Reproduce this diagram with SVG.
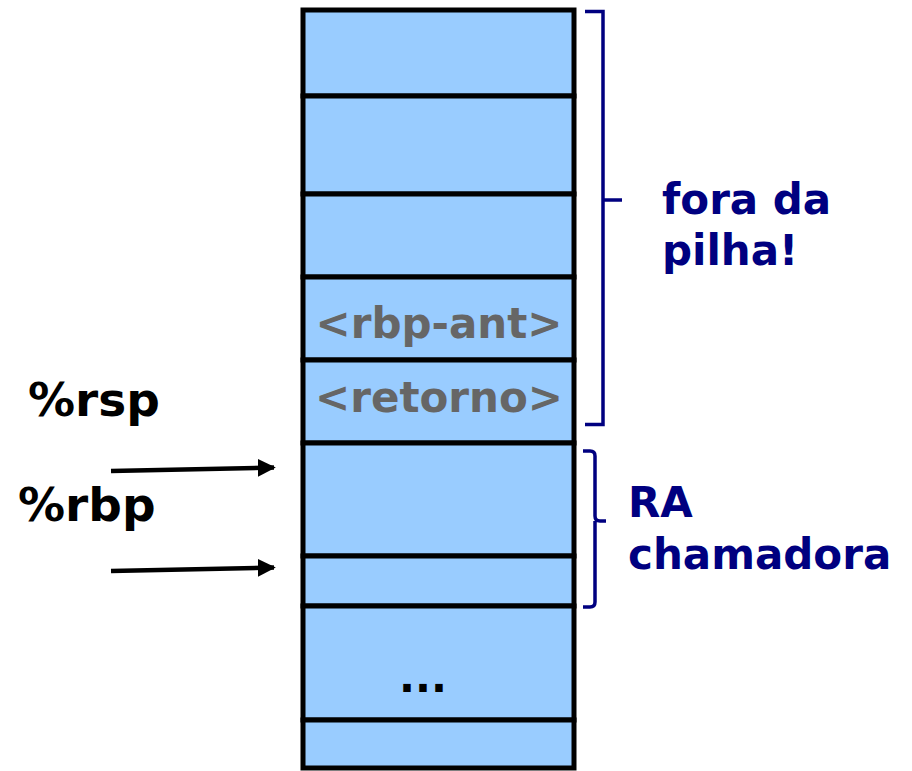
<svg xmlns="http://www.w3.org/2000/svg" width="912" height="771" viewBox="0 0 912 771">
<defs>
<style>
.cell{fill:#99CCFF;stroke:#000;stroke-width:5}
.lbl{font-family:"DejaVu Sans",sans-serif;font-weight:bold}
.gray{fill:#666666;font-size:42px}
.blue{fill:#000080;font-size:42px}
.reg{fill:#000;font-size:47px}
.br{fill:none;stroke:#000080;stroke-width:3.5}
.arr{stroke:#000;stroke-width:4.5}
</style>
<marker id="ah" viewBox="0 0 10 10" refX="9" refY="5" markerWidth="4" markerHeight="4" orient="auto" markerUnits="strokeWidth">
<path d="M0,0 L10,5 L0,10 z" fill="#000"/>
</marker>
</defs>
<rect width="912" height="771" fill="#fff"/>
<g id="stack">
<rect id="c1" class="cell" x="303" y="10" width="271" height="86"/>
<rect id="c2" class="cell" x="303" y="96" width="271" height="98"/>
<rect id="c3" class="cell" x="303" y="194" width="271" height="83"/>
<rect id="c4" class="cell" x="303" y="277" width="271" height="83"/>
<rect id="c5" class="cell" x="303" y="360" width="271" height="83"/>
<rect id="c6" class="cell" x="303" y="443" width="271" height="113"/>
<rect id="c7" class="cell" x="303" y="556" width="271" height="50"/>
<rect id="c8" class="cell" x="303" y="606" width="271" height="114"/>
<rect id="c9" class="cell" x="303" y="720" width="271" height="48"/>
</g>
<g id="cell-texts">
<text class="lbl gray" x="439" y="338" text-anchor="middle">&lt;rbp-ant&gt;</text>
<text class="lbl gray" x="439" y="412" text-anchor="middle">&lt;retorno&gt;</text>
<text class="lbl reg" x="423" y="692" text-anchor="middle" style="font-size:42px">...</text>
</g>
<g id="rsp"><text class="lbl reg" x="28" y="416">%rsp</text></g>
<g id="rbp"><text class="lbl reg" x="18" y="521">%rbp</text></g>
<g id="fora">
<path class="br" d="M585,11.5 H603 V424.5 H585 M603,200 H622"/>
<text class="lbl blue" x="662" y="214">fora da</text>
<text class="lbl blue" x="662" y="265">pilha!</text>
</g>
<g id="ra">
<path class="br" d="M583,451 H590 Q595,451 595,456 V516 Q595,521 600,521 H606 M595,521 Q595,526 595,531 V602 Q595,607 590,607 H583"/>
<text class="lbl blue" x="628" y="517">RA</text>
<text class="lbl blue" x="628" y="569">chamadora</text>
</g>
<g id="connectors">
<line class="arr" x1="111" y1="471" x2="274" y2="467.5" marker-end="url(#ah)"/>
<line class="arr" x1="111" y1="571" x2="274" y2="567.5" marker-end="url(#ah)"/>
</g>
</svg>
